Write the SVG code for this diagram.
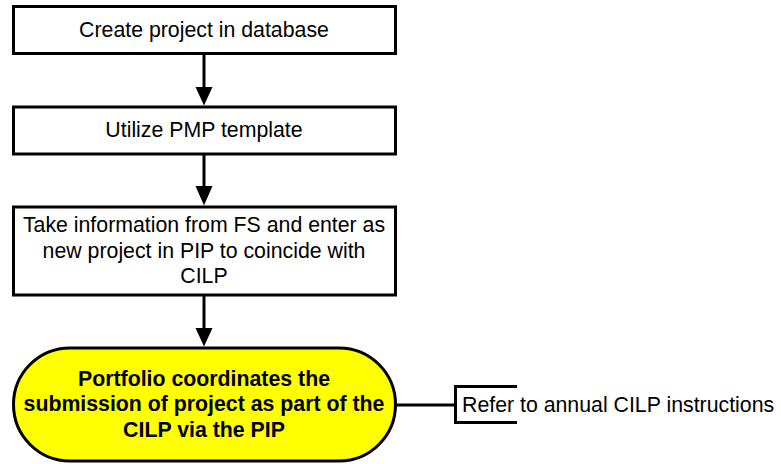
<svg xmlns="http://www.w3.org/2000/svg" width="781" height="464" viewBox="0 0 781 464">
<style>
.box{fill:#fff;stroke:#000;stroke-width:3}
.term{fill:#ffff00;stroke:#000;stroke-width:3}
.ln{stroke:#000;stroke-width:3;fill:none}
.t{font-family:"Liberation Sans",Arial,sans-serif;font-size:21.3px;fill:#000;text-anchor:middle}
.b{font-weight:bold}
.l{text-anchor:start}
</style>
<rect width="781" height="464" fill="#fff"/>
<g id="connectors">
<line class="ln" x1="204" y1="55" x2="204" y2="90"/>
<polygon points="195.5,87 212.5,87 204,105.5" fill="#000"/>
<line class="ln" x1="204" y1="155" x2="204" y2="189"/>
<polygon points="195.5,186 212.5,186 204,205.5" fill="#000"/>
<line class="ln" x1="204" y1="296" x2="204" y2="331"/>
<polygon points="195.5,328 212.5,328 204,346.5" fill="#000"/>
<line class="ln" x1="396" y1="405" x2="455.5" y2="405"/>
</g>
<g id="n1">
<rect class="box" x="13.5" y="6.5" width="382" height="47"/>
<text class="t" x="204" y="37">Create project in database</text>
</g>
<g id="n2">
<rect class="box" x="13.5" y="107" width="382" height="47"/>
<text class="t" x="204" y="137">Utilize PMP template</text>
</g>
<g id="n3">
<rect class="box" x="13.5" y="207" width="382" height="88"/>
<text class="t" x="204" y="232">Take information from FS and enter as</text>
<text class="t" x="204" y="257.5">new project in PIP to coincide with</text>
<text class="t" x="204" y="283">CILP</text>
</g>
<g id="n4">
<rect class="term" x="13.5" y="348" width="382" height="113" rx="56.5" ry="56.5"/>
<text class="t b" x="204" y="386">Portfolio coordinates the</text>
<text class="t b" x="204" y="411">submission of project as part of the</text>
<text class="t b" x="204" y="436.5">CILP via the PIP</text>
</g>
<g id="n5">
<path class="ln" d="M517,386.5 H455.5 V422.5 H517"/>
<text class="t l" x="462" y="412">Refer to annual CILP instructions</text>
</g>
</svg>
